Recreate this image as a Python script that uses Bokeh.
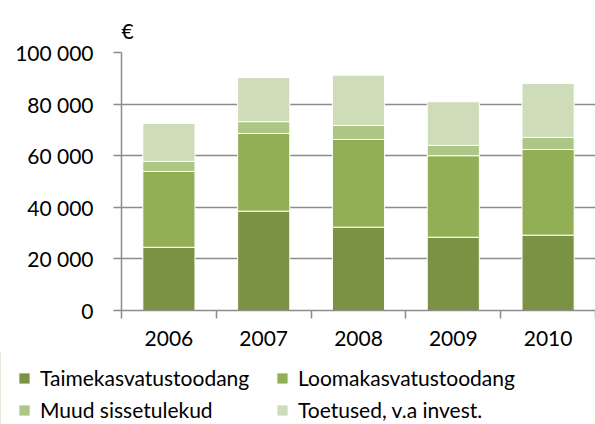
from bokeh.plotting import figure
from bokeh.models import (Range1d, LinearAxis, FixedTicker,
                          CustomJSTickFormatter, Legend, LegendItem, ColumnDataSource)
from bokeh.embed import file_html
from bokeh.resources import INLINE

years = ["2006", "2007", "2008", "2009", "2010"]
taime = [24500, 38500, 32300, 28400, 29200]
looma = [29400, 30100, 34000, 31600, 33200]
muud = [3900, 4600, 5400, 4000, 4700]
toetused = [14700, 17100, 19500, 16900, 20900]
series = ["Taimekasvatustoodang", "Loomakasvatustoodang", "Muud sissetulekud", "Toetused, v.a invest."]
colors = ["#7b9144", "#93af56", "#adc585", "#cfdcb9"]
y_ticks = [0, 20000, 40000, 60000, 80000, 100000]

FONT = "Lato"
FS = "21px"

xs = [i + 0.5 for i in range(len(years))]
edges = [float(i) for i in range(len(years) + 1)]
src = ColumnDataSource(dict(x=xs, taime=taime, looma=looma, muud=muud, toetused=toetused))
keys = ["taime", "looma", "muud", "toetused"]

p = figure(width=595, height=352, x_range=Range1d(0, len(years)), y_range=Range1d(0, 100000),
           output_backend="svg", toolbar_location=None, x_axis_location=None,
           min_border_left=121, min_border_right=0, min_border_top=52, min_border_bottom=42)
p.outline_line_color = None
p.background_fill_color = "white"
p.border_fill_color = "white"

p.vbar_stack(keys, x="x", width=0.55, source=src, color=colors,
             line_color="white", line_width=1)

# y axis
ya = p.yaxis[0]
ya.ticker = FixedTicker(ticks=y_ticks)
ya.formatter = CustomJSTickFormatter(code="return tick.toString().replace(/\\B(?=(\\d{3})+(?!\\d))/g, '\u202f');")
ya.major_label_text_font = FONT
ya.major_label_text_font_size = FS
ya.major_label_text_color = "black"
ya.axis_line_color = "#8c8c8c"
ya.axis_line_width = 1.5
ya.major_tick_line_color = "#8c8c8c"
ya.major_tick_line_width = 1.5
ya.major_tick_out = 8
ya.major_tick_in = 0
ya.minor_tick_line_color = None
ya.major_label_standoff = 20

p.ygrid.ticker = FixedTicker(ticks=y_ticks)
p.ygrid.grid_line_color = "#8c8c8c"
p.ygrid.grid_line_width = 1.5
p.xgrid.grid_line_color = None

# x axis: ticks between categories, labels at centres
edge_axis = LinearAxis(ticker=FixedTicker(ticks=edges),
                       major_label_overrides={e: "" for e in edges},
                       major_label_standoff=0,
                       axis_line_color="#8c8c8c", axis_line_width=1.5,
                       major_tick_line_color="#8c8c8c", major_tick_line_width=1.5,
                       major_tick_out=8, major_tick_in=0, minor_tick_line_color=None)
p.add_layout(edge_axis, "below")
cat_axis = LinearAxis(ticker=FixedTicker(ticks=xs),
                      major_label_overrides={x: y for x, y in zip(xs, years)},
                      axis_line_color=None, major_tick_line_color=None, minor_tick_line_color=None,
                      major_label_text_font=FONT, major_label_text_font_size=FS,
                      major_label_text_color="black", major_label_standoff=6)
p.add_layout(cat_axis, "below")

# title €
p.title.text = "€"
p.title.text_font = FONT
p.title.text_font_size = FS
p.title.text_font_style = "normal"
p.title.text_color = "black"
p.title.align = "left"
p.title.offset = 0
p.title.standoff = 20

# legend in its own strip below the chart
lg = figure(width=595, height=72, x_range=Range1d(100, 101), y_range=Range1d(0, 1),
            output_backend="svg", toolbar_location=None,
            x_axis_location=None, y_axis_location=None, min_border=0)
lg.outline_line_color = None
lg.grid.grid_line_color = None
leg_renderers = lg.vbar_stack(keys, x="x", width=0.55, source=src, color=colors,
                              line_color="white", line_width=1)
order = [0, 2, 1, 3]  # column-major fill -> rows: (0, 1), (2, 3)
legend = Legend(items=[LegendItem(label=series[i], renderers=[leg_renderers[i]]) for i in order],
                ncols=2, location=(17, 2), border_line_color=None, background_fill_alpha=0,
                label_text_font=FONT, label_text_font_size=FS, label_text_color="black",
                glyph_width=14, glyph_height=14, label_standoff=9, spacing=7,
                padding=0, margin=0, label_height=20, label_width=228)
lg.add_layout(legend, "center")

open("out.html", "w").write(file_html([p, lg], INLINE))
